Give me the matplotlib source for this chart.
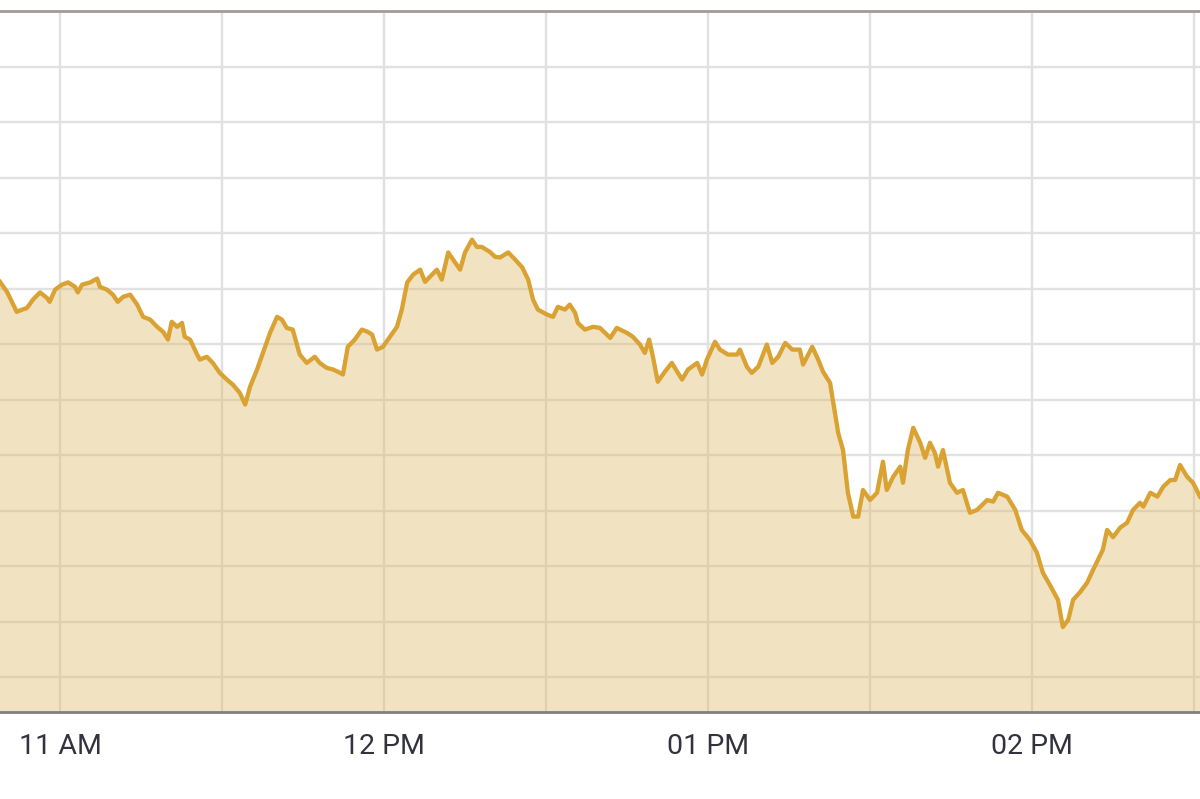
import matplotlib.pyplot as plt

# minutes after 10:00 and price
minutes = [
    48.9, 50.2, 52.0, 53.0, 53.9, 55.0, 56.3, 57.6, 58.1, 59.1,
    60.4, 61.5, 62.8, 63.3, 64.1, 65.6, 66.9, 67.4, 68.7, 69.8,
    70.7, 71.7, 73.0, 74.3, 75.4, 76.7, 78.0, 79.1, 80.0, 80.7,
    81.7, 82.6, 83.1, 84.1, 85.4, 85.9, 87.2, 88.3, 89.6, 90.9,
    92.0, 93.3, 94.3, 95.2, 96.5, 97.6, 98.9, 100.2, 101.1, 102.0,
    103.1, 104.4, 105.7, 107.2, 108.1, 109.4, 110.6, 111.9, 112.4, 113.3,
    114.6, 115.9, 117.0, 117.8, 118.7, 119.8, 121.1, 122.4, 123.3, 124.3,
    125.4, 126.7, 127.6, 128.9, 129.8, 130.7, 131.9, 132.8, 134.1, 135.0,
    136.3, 137.2, 138.1, 139.6, 140.6, 141.5, 143.0, 144.3, 145.6, 146.7,
    147.6, 148.5, 150.2, 151.3, 152.2, 153.5, 154.4, 155.4, 155.9, 157.2,
    158.7, 160.0, 161.9, 163.1, 165.0, 166.1, 167.4, 168.3, 169.1, 169.8,
    170.7, 172.0, 173.3, 174.3, 175.2, 176.3, 178.0, 178.9, 179.8, 181.3,
    182.2, 183.7, 185.4, 185.9, 187.2, 188.1, 189.3, 190.9, 191.9, 193.0,
    194.3, 195.6, 197.0, 197.6, 199.3, 200.4, 201.3, 202.6, 203.1, 204.1,
    205.0, 205.9, 206.9, 207.8, 208.7, 210.0, 211.3, 212.4, 213.1, 214.3,
    215.6, 216.1, 217.0, 218.0, 219.3, 220.2, 221.1, 222.0, 222.6, 223.5,
    224.8, 226.1, 227.2, 228.5, 229.8, 231.7, 232.8, 233.7, 235.4, 236.9,
    238.1, 239.6, 240.9, 242.0, 243.3, 244.8, 245.7, 246.7, 247.6, 248.9,
    250.2, 251.3, 252.2, 253.1, 253.9, 255.0, 256.3, 257.6, 258.7, 260.0,
    260.6, 261.9, 263.2, 264.3, 265.6, 266.5, 267.4, 268.7, 269.8, 271.1,
]
price = [
    171.2, 169.4, 165.8, 166.2, 166.5, 168.0, 169.3, 168.3, 167.6, 169.8,
    170.7, 171.1, 170.3, 169.3, 170.7, 171.1, 171.8, 170.3, 169.8, 168.9,
    167.6, 168.5, 168.9, 167.1, 164.9, 164.4, 163.1, 162.2, 160.8, 164.0,
    163.1, 163.8, 161.3, 160.8, 158.1, 157.2, 157.7, 156.6, 154.8, 153.6,
    152.7, 151.2, 149.1, 152.3, 155.4, 158.4, 162.0, 164.9, 164.4, 162.9,
    162.6, 158.1, 156.6, 157.7, 156.6, 155.7, 155.4, 154.8, 154.5, 159.5,
    160.8, 162.6, 162.2, 161.7, 159.0, 159.5, 161.3, 163.1, 166.2, 171.1,
    172.5, 173.4, 171.2, 172.5, 173.4, 171.6, 176.5, 175.2, 173.4, 176.5,
    178.8, 177.5, 177.5, 176.6, 175.7, 175.6, 176.5, 175.2, 173.8, 171.6,
    168.0, 166.2, 165.3, 164.9, 166.7, 166.2, 167.1, 165.6, 163.8, 162.6,
    163.1, 162.9, 161.1, 162.9, 162.0, 161.3, 159.9, 158.4, 160.8, 157.7,
    153.2, 155.0, 156.6, 155.0, 153.6, 155.4, 156.6, 154.5, 157.2, 160.4,
    159.0, 158.1, 158.1, 159.0, 155.9, 154.8, 155.9, 159.9, 156.6, 157.7,
    160.2, 159.0, 159.0, 156.3, 159.5, 157.2, 155.0, 153.0, 150.0, 144.0,
    140.9, 133.2, 128.9, 128.9, 133.7, 131.9, 133.2, 138.8, 133.7, 136.1,
    137.9, 135.0, 140.9, 144.9, 142.2, 139.5, 142.2, 140.4, 137.9, 140.9,
    135.0, 133.2, 133.7, 129.6, 130.1, 131.9, 131.6, 133.2, 132.5, 130.1,
    126.5, 124.7, 122.4, 118.8, 116.6, 113.9, 109.0, 110.3, 113.9, 115.3,
    117.0, 119.3, 121.1, 122.9, 126.5, 125.2, 126.9, 127.8, 130.1, 131.4,
    130.7, 133.2, 132.5, 134.3, 135.5, 135.5, 138.2, 136.1, 135.0, 132.5,
]

tick_pos = [60, 120, 180, 240]
tick_labels = ["11 AM", "12 PM", "01 PM", "02 PM"]

fig = plt.figure(figsize=(12, 7.99), dpi=100)
ax = fig.add_axes([0, 0.1089, 1, 0.8773])

ymin = 93.7
ax.fill_between(minutes, price, ymin, color="#DEBB66", alpha=0.4, linewidth=0)
ax.plot(minutes, price, color="#D9A232", linewidth=3.1, solid_joinstyle="round")

ax.set_xlim(48.9, 271.1)
ax.set_ylim(ymin, 220)

# grid every 30 min and every 10 points
ax.set_xticks(range(60, 271, 30), minor=True)
ax.set_xticks(tick_pos)
ax.set_xticklabels(tick_labels)
ax.set_yticks(range(100, 221, 10))
ax.set_yticklabels([])
ax.set_axisbelow(True)
ax.grid(True, which="both", axis="x", color="#e1e1e1", linewidth=1.7)
ax.grid(True, axis="y", color="#e1e1e1", linewidth=1.7)

ax.tick_params(axis="both", which="both", length=0)
ax.tick_params(axis="x", pad=15, labelsize=20.5, labelcolor="#33333f")
for lbl in ax.get_xticklabels():
    lbl.set_family(["Roboto", "DejaVu Sans"])

for side in ["left", "right"]:
    ax.spines[side].set_visible(False)
ax.spines["top"].set_color("#a09c98")
ax.spines["top"].set_linewidth(2)
ax.spines["bottom"].set_color("#808080")
ax.spines["bottom"].set_linewidth(2)

fig.savefig("out.png", dpi=100)
